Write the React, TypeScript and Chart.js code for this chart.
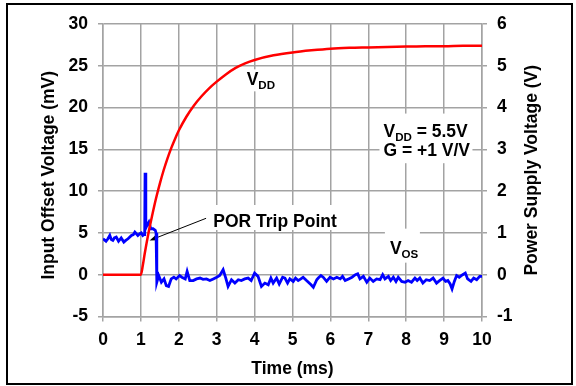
import React, { useEffect, useRef } from 'react';
import { Chart, registerables } from 'chart.js';
Chart.register(...registerables);

const FONT = "'Liberation Sans', Arial, Helvetica, sans-serif";
const FS = 17.5;

// Time axis (ms)
const xTicks = [0, 1, 2, 3, 4, 5, 6, 7, 8, 9, 10];
const yLeftTicks = [-5, 0, 5, 10, 15, 20, 25, 30];
const yRightTicks = [-1, 0, 1, 2, 3, 4, 5, 6];

// VDD (V), right axis
const vddTime = [0, 1.0, 1.05, 1.1, 1.2, 1.3, 1.4, 1.5, 1.6, 1.7, 1.8, 1.9, 2.0, 2.2, 2.4, 2.6, 2.8, 3.0, 3.25, 3.5, 3.75, 4.0, 4.5, 5.0, 5.5, 6.0, 6.5, 7.0, 7.5, 8.0, 8.5, 9.0, 9.5, 10.0];
const vddVolts = [0, 0, 0.22, 0.5, 1.0, 1.43, 1.83, 2.18, 2.5, 2.78, 3.03, 3.25, 3.45, 3.78, 4.05, 4.27, 4.46, 4.62, 4.8, 4.95, 5.06, 5.14, 5.25, 5.32, 5.37, 5.41, 5.43, 5.44, 5.45, 5.46, 5.47, 5.47, 5.48, 5.48];

// VOS (mV), left axis
const vosTime = [0.0, 0.03, 0.08, 0.13, 0.18, 0.22, 0.26, 0.30, 0.35, 0.41, 0.48, 0.55, 0.60, 0.66, 0.75, 0.80, 0.84, 0.88, 0.92, 0.97, 1.01, 1.05, 1.08, 1.10, 1.11, 1.13, 1.16, 1.21, 1.26, 1.32, 1.38, 1.40, 1.42, 1.47, 1.54, 1.61, 1.67, 1.73, 1.80, 1.87, 1.93, 2.02, 2.08, 2.17, 2.22, 2.29, 2.38, 2.47, 2.56, 2.64, 2.73, 2.82, 2.91, 3.00, 3.08, 3.17, 3.24, 3.30, 3.39, 3.48, 3.57, 3.65, 3.74, 3.83, 3.91, 4.00, 4.09, 4.18, 4.27, 4.36, 4.43, 4.49, 4.58, 4.65, 4.74, 4.80, 4.87, 4.93, 5.02, 5.08, 5.15, 5.22, 5.28, 5.37, 5.49, 5.55, 5.64, 5.68, 5.75, 5.81, 5.90, 5.99, 6.08, 6.17, 6.26, 6.32, 6.39, 6.48, 6.57, 6.66, 6.72, 6.78, 6.87, 6.96, 7.04, 7.13, 7.22, 7.31, 7.38, 7.44, 7.53, 7.59, 7.66, 7.73, 7.79, 7.88, 7.97, 8.05, 8.14, 8.23, 8.29, 8.36, 8.44, 8.53, 8.62, 8.71, 8.80, 8.88, 8.97, 9.04, 9.10, 9.16, 9.21, 9.27, 9.33, 9.40, 9.49, 9.56, 9.62, 9.71, 9.78, 9.86, 9.94, 10.0];
const vosMv = [4.3, 4.2, 4.0, 4.3, 4.7, 4.2, 4.1, 4.4, 4.5, 4.0, 4.4, 3.9, 4.1, 4.3, 4.7, 4.8, 5.1, 4.9, 4.7, 4.9, 5.0, 4.7, 4.8, 4.8, 12.2, 5.6, 5.9, 6.3, 5.5, 5.5, 5.3, 5.0, -0.9, -0.1, -0.9, -0.5, -1.3, -1.4, -0.5, -0.3, -0.5, -0.1, -0.3, -0.5, 0.4, -0.7, -0.7, -0.5, -0.4, -0.56, -0.5, -0.7, -0.5, -0.3, -0.1, 0.6, -0.4, -1.4, -0.6, -1.0, -0.6, -0.7, -0.5, -0.4, -0.7, 0.2, -0.2, -1.4, -1.0, -1.2, -0.4, -1.0, -0.4, -1.1, -0.3, -0.4, -1.0, -0.5, -0.8, -0.4, -0.7, -0.5, -0.3, -0.7, -1.2, -1.5, -0.6, -0.4, -0.1, -0.3, -0.8, -0.3, -0.5, -0.3, -0.5, -0.2, -0.7, -0.5, -0.3, 0.0, 0.1, -0.5, -0.2, -0.9, -0.4, -0.8, -0.5, -0.6, 0.0, -0.5, -0.2, -0.7, -0.3, -0.8, -0.3, -0.8, -0.9, -0.7, -0.9, -0.4, -0.7, -0.4, -1.0, -0.6, -0.7, -0.4, -1.0, -0.7, -0.4, -0.8, -0.7, -1.1, -1.7, -0.8, -0.1, -0.3, 0.0, 0.2, -0.5, -0.8, -0.4, -0.6, -0.2, -0.2];

// Annotation anchors (data coordinates: ms, mV)
const vddLabel = { t: 3.79, mv: 22.66 };
const infoLabel = { t: 7.4, mv1: 16.53, mv2: 14.18 };
const porLabel = { t: 2.91, mv: 5.71, text: 'POR Trip Point' };
const vosLabel = { t: 7.57, mv: 2.52 };
const arrowFrom = { t: 2.72, mv: 6.75 };
const arrowTo = { t: 1.23, mv: 4.1 };

const GRID = '#a3a3a3';

function subText(ctx: CanvasRenderingContext2D, x: number, y: number, main: string, sub: string, rest = '') {
  ctx.font = `bold ${FS}px ${FONT}`;
  ctx.fillText(main, x, y);
  const w1 = ctx.measureText(main).width;
  ctx.font = `bold ${FS * 0.66}px ${FONT}`;
  ctx.fillText(sub, x + w1, y + 4);
  const w2 = ctx.measureText(sub).width;
  if (rest) {
    ctx.font = `bold ${FS}px ${FONT}`;
    ctx.fillText(rest, x + w1 + w2, y);
  }
}

const annotPlugin = {
  id: 'annot',
  beforeDatasetsDraw(chart: any) {
    const { ctx, scales } = chart;
    const X = scales.x, Y = scales.y;
    ctx.save();
    ctx.fillStyle = '#ffffff';
    const vx = X.getPixelForValue(vddLabel.t), vy = Y.getPixelForValue(vddLabel.mv);
    ctx.fillRect(vx - 3, vy - 16, 36, 22);
    const ix = X.getPixelForValue(infoLabel.t), iy1 = Y.getPixelForValue(infoLabel.mv1), iy2 = Y.getPixelForValue(infoLabel.mv2);
    ctx.fillRect(ix - 4, iy1 - 23, 93, iy2 - iy1 + 30);
    const px = X.getPixelForValue(porLabel.t), py = Y.getPixelForValue(porLabel.mv);
    ctx.fillRect(px - 5, py - 22, 135, 25);
    const sx = X.getPixelForValue(vosLabel.t), sy = Y.getPixelForValue(vosLabel.mv);
    ctx.fillRect(sx - 5, sy - 25, 35, 34);

    ctx.fillStyle = '#000';
    ctx.textBaseline = 'alphabetic';
    ctx.textAlign = 'left';
    subText(ctx, vx, vy, 'V', 'DD');
    subText(ctx, ix, iy1, 'V', 'DD', ' = 5.5V');
    ctx.font = `bold ${FS}px ${FONT}`;
    ctx.fillText('G = +1 V/V', ix, iy2);
    ctx.fillText(porLabel.text, px, py);
    subText(ctx, sx, sy, 'V', 'OS');

    const ax1 = X.getPixelForValue(arrowFrom.t), ay1 = Y.getPixelForValue(arrowFrom.mv);
    const ax2 = X.getPixelForValue(arrowTo.t), ay2 = Y.getPixelForValue(arrowTo.mv);
    const ang = Math.atan2(ay2 - ay1, ax2 - ax1);
    ctx.strokeStyle = '#000';
    ctx.lineWidth = 1;
    ctx.beginPath();
    ctx.moveTo(ax1, ay1);
    ctx.lineTo(ax2 - 6 * Math.cos(ang), ay2 - 6 * Math.sin(ang));
    ctx.stroke();
    ctx.beginPath();
    ctx.moveTo(ax2, ay2);
    ctx.lineTo(ax2 - 8 * Math.cos(ang) + 3 * Math.sin(ang), ay2 - 8 * Math.sin(ang) - 3 * Math.cos(ang));
    ctx.lineTo(ax2 - 8 * Math.cos(ang) - 3 * Math.sin(ang), ay2 - 8 * Math.sin(ang) + 3 * Math.cos(ang));
    ctx.closePath();
    ctx.fill();
    ctx.restore();
  },
  afterDraw(chart: any) {
    const { ctx, chartArea } = chart;
    ctx.save();
    ctx.fillStyle = '#000';
    ctx.font = `bold ${FS}px ${FONT}`;
    ctx.textAlign = 'center';
    ctx.textBaseline = 'middle';
    const mid = (chartArea.top + chartArea.bottom) / 2;
    ctx.save();
    ctx.translate(chartArea.left - 54, mid + 5);
    ctx.rotate(-Math.PI / 2);
    ctx.fillText('Input Offset Voltage (mV)', 0, 0);
    ctx.restore();
    ctx.save();
    ctx.translate(chartArea.right + 50, mid);
    ctx.rotate(-Math.PI / 2);
    ctx.fillText('Power Supply Voltage (V)', 0, 0);
    ctx.restore();
    ctx.strokeStyle = '#000';
    ctx.lineWidth = 2;
    ctx.strokeRect(7, 4, 565, 380);
    ctx.restore();
  },
};

export default function App() {
  const ref = useRef<HTMLCanvasElement>(null);
  useEffect(() => {
    const red = vddTime.map((t, i) => ({ x: t, y: vddVolts[i] }));
    const blue = vosTime.map((t, i) => ({ x: t, y: vosMv[i] }));
    const tickFont = { family: FONT, size: FS, weight: 'bold' as const };
    const chart = new Chart(ref.current!, {
      type: 'line',
      data: {
        datasets: [
          { label: 'VDD', data: red, yAxisID: 'y2', borderColor: '#ff0000', borderWidth: 2.5, pointRadius: 0, cubicInterpolationMode: 'monotone', order: 0 },
          { label: 'VOS', data: blue, yAxisID: 'y', borderColor: '#0000ff', borderWidth: 2.8, pointRadius: 0, tension: 0, order: 1 },
        ],
      },
      options: {
        responsive: false,
        animation: false,
        events: [],
        layout: { padding: { top: 24, left: 0, right: 0, bottom: 0 } },
        plugins: { legend: { display: false }, tooltip: { enabled: false } },
        scales: {
          x: {
            type: 'linear', min: 0, max: 10,
            afterBuildTicks: (s: any) => { s.ticks = xTicks.map(v => ({ value: v })); },
            afterFit: (s: any) => { s.height = 69.5; },
            grid: { color: GRID, lineWidth: 1.5, tickLength: 5 },
            border: { color: GRID, width: 1.5 },
            ticks: { color: '#000', font: tickFont, padding: 8, maxRotation: 0 },
            title: { display: true, text: 'Time (ms)', color: '#000', font: tickFont, padding: { top: 0, bottom: 6.5 } },
          },
          y: {
            type: 'linear', position: 'left', min: -5, max: 30,
            afterBuildTicks: (s: any) => { s.ticks = yLeftTicks.map(v => ({ value: v })); },
            afterFit: (s: any) => { s.width = 103; },
            grid: { color: GRID, lineWidth: 1.5, tickLength: 5 },
            border: { color: GRID, width: 1.5 },
            ticks: { color: '#000', font: tickFont, padding: 10 },
          },
          y2: {
            type: 'linear', position: 'right', min: -1, max: 6,
            afterBuildTicks: (s: any) => { s.ticks = yRightTicks.map(v => ({ value: v })); },
            afterFit: (s: any) => { s.width = 94; },
            grid: { color: GRID, lineWidth: 1.5, tickLength: 5, drawOnChartArea: false },
            border: { color: GRID, width: 1.5 },
            ticks: { color: '#000', font: tickFont, padding: 10 },
          },
        },
      },
      plugins: [annotPlugin],
    } as any);
    return () => chart.destroy();
  }, []);
  return (
    <div style={{ position: 'absolute', left: 0, top: 0, width: 576, height: 386, background: '#fff' }}>
      <canvas ref={ref} width={576} height={386} style={{ display: 'block', width: 576, height: 386 }} />
    </div>
  );
}
